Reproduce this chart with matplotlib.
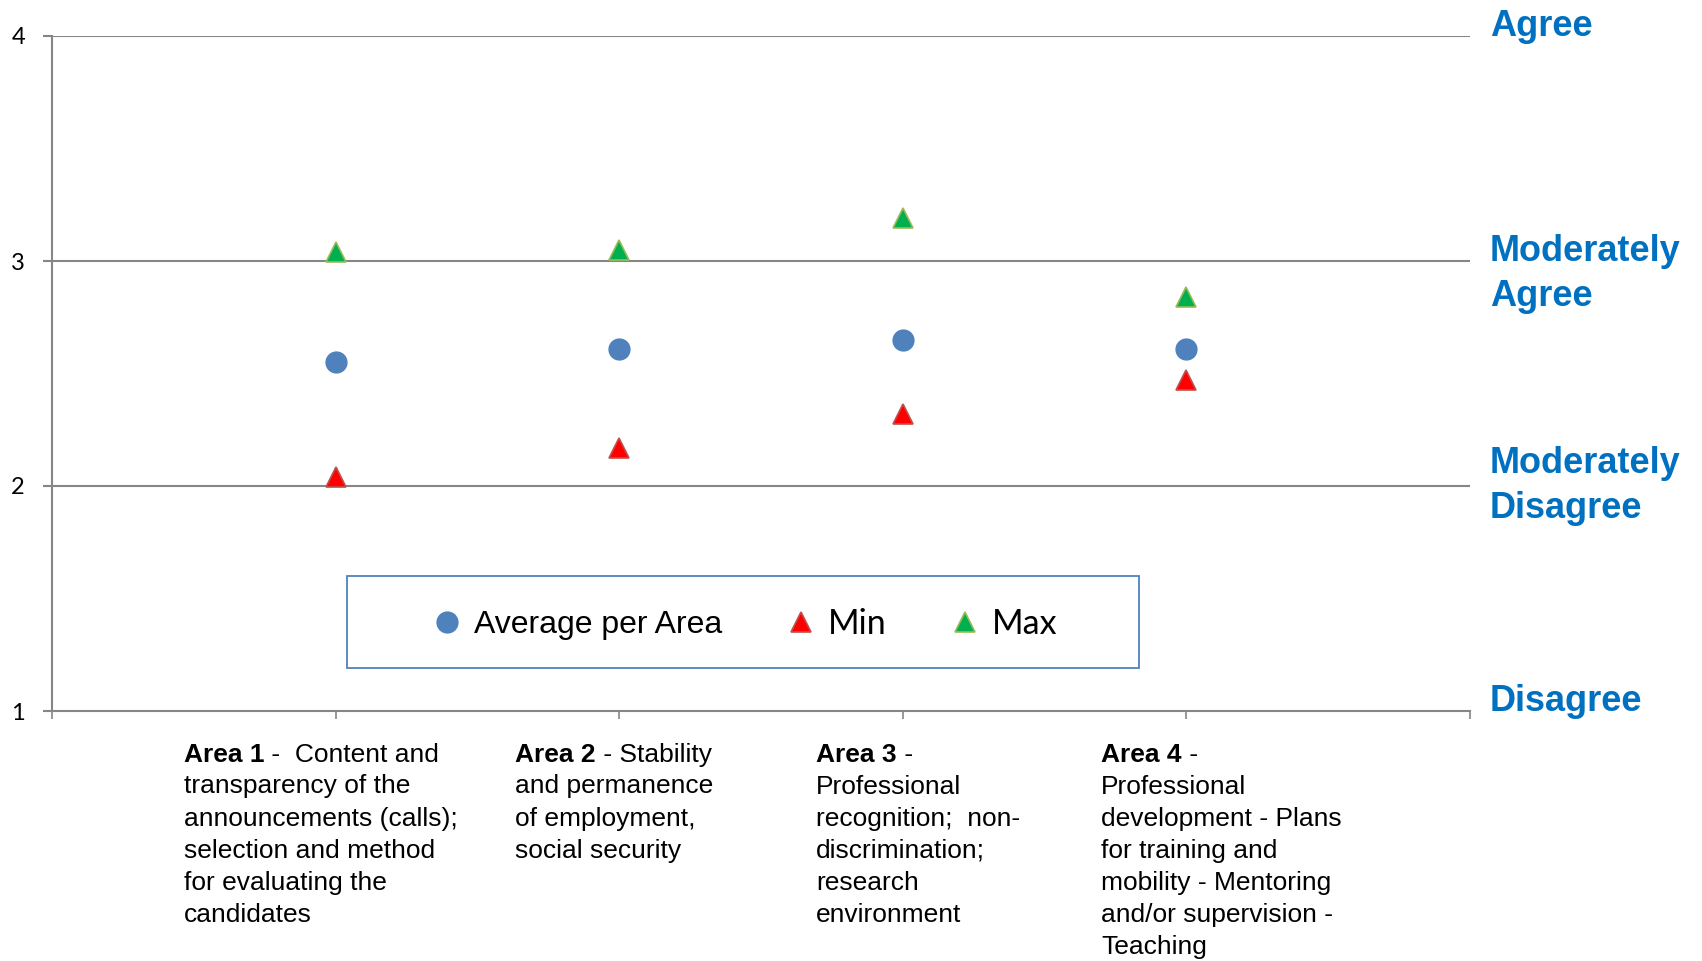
import numpy as np
import matplotlib
matplotlib.use('Agg')
import matplotlib.pyplot as plt
from matplotlib.patches import Rectangle
from matplotlib.transforms import blended_transform_factory

# datos
areas = [1, 2, 3, 4]
promedio = [2.55, 2.61, 2.65, 2.61]
minimo = [2.04, 2.17, 2.32, 2.47]
maximo = [3.04, 3.05, 3.19, 2.84]

etiq_bold = ["Area 1", "Area 2", "Area 3", "Area 4"]
etiq_resto = [" -  Content and", " - Stability", " -", " -"]
etiq_lineas = [
    "transparency of the\nannouncements (calls);\nselection and method\nfor evaluating the\ncandidates",
    "and permanence\nof employment,\nsocial security",
    "Professional\nrecognition;  non-\ndiscrimination;\nresearch\nenvironment",
    "Professional\ndevelopment - Plans\nfor training and\nmobility - Mentoring\nand/or supervision -\nTeaching",
]
escala_txt = ["Agree", "Moderately\nAgree", "Moderately\nDisagree", "Disagree"]
escala_y = [4, 3, 2.058, 1]

W, H = 1702, 961
fig = plt.figure(figsize=(W / 100, H / 100), dpi=100)
ax = fig.add_axes([52 / W, 1 - 711 / H, (1470 - 52) / W, (711 - 36) / H])

gris = '#868686'
azul = '#0070C0'

ax.set_xlim(0, 5)
ax.set_ylim(1, 4)
ax.set_yticks([1, 2, 3, 4])
ax.set_xticks([0, 1, 2, 3, 4, 5])
ax.set_xticklabels([])
for s in ['top', 'right']:
    ax.spines[s].set_visible(False)
for s in ['left', 'bottom']:
    ax.spines[s].set_color(gris)
    ax.spines[s].set_linewidth(1.5)
ax.tick_params(axis='y', length=6.5, width=1.5, color=gris, pad=13,
               labelsize=17, labelfontfamily='Lato')
ax.tick_params(axis='x', length=6, width=1.2, color=gris)
for y in [2, 3, 4]:
    ax.axhline(y, color=gris, lw=1.5, zorder=1)

# series
ax.plot(areas, promedio, ls='none', marker='o', ms=15, mfc='#4F81BD', mec='#4F81BD',
        label='Average per Area', zorder=3, clip_on=False)
ax.plot(areas, minimo, ls='none', marker='^', ms=14, mfc='#FF0000', mec='#C0504D', mew=1.2,
        label='Min', zorder=3, clip_on=False)
ax.plot(areas, maximo, ls='none', marker='^', ms=14, mfc='#00B050', mec='#9BBB59', mew=1.2,
        label='Max', zorder=3, clip_on=False)

# leyenda (caja dibujada aparte)
caja = Rectangle((347 / W, 1 - 668 / H), 792 / W, 92 / H, transform=fig.transFigure,
                 fc='white', ec='#4F81BD', lw=1.3, zorder=4, clip_on=False)
ax.add_patch(caja)
leg = ax.legend(loc='center left', bbox_to_anchor=(415 / W, 1 - 624 / H),
                bbox_transform=fig.transFigure, ncol=3, frameon=False, borderpad=0,
                handlelength=1.0, handletextpad=0.35, columnspacing=1.95,
                prop={'family': 'Liberation Sans', 'size': 23})
leg.set_zorder(5)
for t in leg.get_texts()[1:]:
    t.set_fontfamily('Lato')
    t.set_fontsize(24.5)

# etiquetas de la escala a la derecha (una linea cada vez)
tr = blended_transform_factory(fig.transFigure, ax.transData)
for txt, y in zip(escala_txt, escala_y):
    for i, linea in enumerate(txt.split('\n')):
        ax.annotate(linea, xy=(1490 / W, y), xycoords=tr, xytext=(0, -45 * i),
                    textcoords='offset pixels', ha='left', va='baseline', color=azul,
                    fontsize=26, fontweight='bold', family='Liberation Sans',
                    annotation_clip=False)

# etiquetas de categorias
xs_px = [184, 515, 816, 1101]
base_px = 762
for xp, b, r, resto in zip(xs_px, etiq_bold, etiq_resto, etiq_lineas):
    t1 = fig.text(xp / W, 1 - base_px / H, b, ha='left', va='baseline', fontsize=19,
                  fontweight='bold', family='Liberation Sans')
    ax.annotate(r, xy=(1, 0), xycoords=t1, ha='left', va='bottom',
                fontsize=19, family='Liberation Sans', annotation_clip=False)
    ax.annotate(resto, xy=(0, 0), xycoords=t1, xytext=(0, -7.5), textcoords='offset pixels',
                ha='left', va='top', fontsize=19, family='Liberation Sans', linespacing=1.43,
                annotation_clip=False)

fig.savefig('out.png', dpi=100)
